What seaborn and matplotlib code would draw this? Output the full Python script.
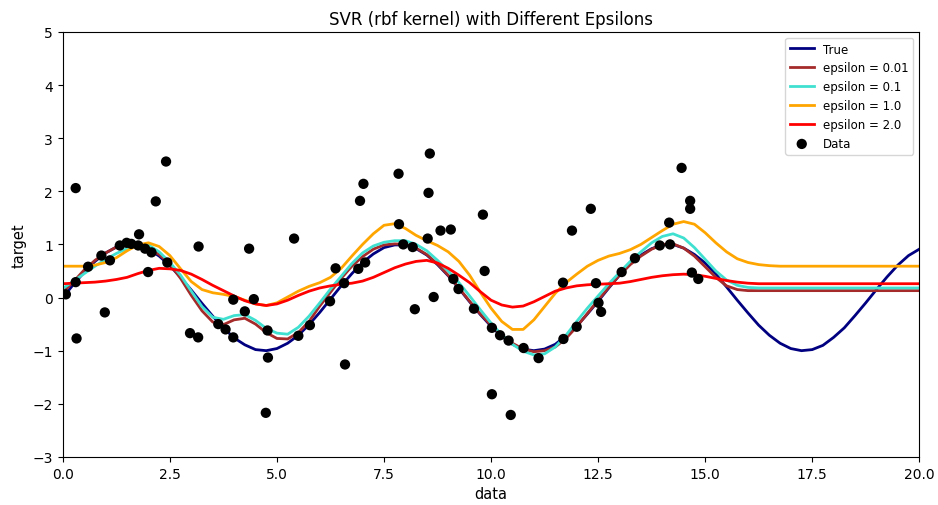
import numpy as np
import matplotlib
matplotlib.use("Agg")
import matplotlib.pyplot as plt
import seaborn as sns

x_grid = [0.0, 0.25, 0.5, 0.75, 1.0, 1.25, 1.5, 1.75, 2.0, 2.25, 2.5, 2.75,
          3.0, 3.25, 3.5, 3.75, 4.0, 4.25, 4.5, 4.75, 5.0, 5.25, 5.5, 5.75,
          6.0, 6.25, 6.5, 6.75, 7.0, 7.25, 7.5, 7.75, 8.0, 8.25, 8.5, 8.75,
          9.0, 9.25, 9.5, 9.75, 10.0, 10.25, 10.5, 10.75, 11.0, 11.25, 11.5, 11.75,
          12.0, 12.25, 12.5, 12.75, 13.0, 13.25, 13.5, 13.75, 14.0, 14.25, 14.5, 14.75,
          15.0, 15.25, 15.5, 15.75, 16.0, 16.25, 16.5, 16.75, 17.0, 17.25, 17.5, 17.75,
          18.0, 18.25, 18.5, 18.75, 19.0, 19.25, 19.5, 19.75, 20.0]

true_y = [0.00, 0.25, 0.48, 0.68, 0.84, 0.95, 1.00, 0.98, 0.91, 0.78, 0.60, 0.38,
          0.14, -0.11, -0.35, -0.57, -0.76, -0.89, -0.98, -1.00, -0.96, -0.86, -0.71, -0.51,
          -0.28, -0.03, 0.22, 0.45, 0.66, 0.82, 0.94, 0.99, 0.99, 0.92, 0.80, 0.62,
          0.41, 0.17, -0.08, -0.32, -0.54, -0.73, -0.88, -0.97, -1.00, -0.97, -0.88, -0.72,
          -0.54, -0.31, -0.07, 0.18, 0.42, 0.63, 0.80, 0.92, 0.99, 1.00, 0.93, 0.81,
          0.65, 0.44, 0.20, -0.05, -0.29, -0.52, -0.71, -0.86, -0.96, -1.00, -0.98, -0.90,
          -0.75, -0.57, -0.34, -0.10, 0.15, 0.39, 0.61, 0.79, 0.91]

eps001_y = [0.10, 0.30, 0.52, 0.70, 0.84, 0.95, 1.02, 1.00, 0.93, 0.81, 0.63, 0.36,
            0.04, -0.25, -0.46, -0.51, -0.42, -0.39, -0.50, -0.66, -0.77, -0.78, -0.66, -0.45,
            -0.16, 0.10, 0.36, 0.59, 0.77, 0.91, 0.99, 1.01, 1.00, 0.93, 0.81, 0.63,
            0.42, 0.18, -0.07, -0.31, -0.52, -0.71, -0.86, -0.97, -1.02, -1.00, -0.93, -0.77,
            -0.55, -0.30, -0.05, 0.19, 0.42, 0.62, 0.78, 0.91, 1.00, 1.01, 0.93, 0.78,
            0.58, 0.38, 0.22, 0.15, 0.13, 0.13, 0.13, 0.13, 0.13, 0.13, 0.13, 0.13,
            0.13, 0.13, 0.13, 0.13, 0.13, 0.13, 0.13, 0.13, 0.13]

eps01_y = [0.17, 0.31, 0.45, 0.59, 0.72, 0.83, 0.92, 0.99, 0.99, 0.86, 0.66, 0.42,
           0.12, -0.17, -0.37, -0.41, -0.34, -0.32, -0.43, -0.58, -0.67, -0.69, -0.56, -0.35,
           -0.10, 0.16, 0.40, 0.64, 0.84, 0.97, 1.04, 1.07, 1.07, 1.00, 0.88, 0.70,
           0.50, 0.28, 0.03, -0.23, -0.48, -0.70, -0.88, -1.01, -1.08, -1.06, -0.93, -0.71,
           -0.45, -0.20, 0.03, 0.26, 0.47, 0.68, 0.86, 1.03, 1.15, 1.20, 1.12, 0.94,
           0.72, 0.50, 0.33, 0.23, 0.19, 0.18, 0.18, 0.18, 0.18, 0.18, 0.18, 0.18,
           0.18, 0.18, 0.18, 0.18, 0.18, 0.18, 0.18, 0.18, 0.18]

eps1_y = [0.59, 0.59, 0.59, 0.61, 0.66, 0.75, 0.88, 0.99, 1.03, 0.96, 0.79, 0.54,
          0.30, 0.15, 0.09, 0.06, 0.02, -0.05, -0.12, -0.15, -0.10, 0.01, 0.12, 0.21,
          0.28, 0.38, 0.55, 0.78, 1.00, 1.20, 1.36, 1.39, 1.30, 1.17, 1.07, 0.98,
          0.86, 0.68, 0.42, 0.10, -0.20, -0.45, -0.60, -0.60, -0.42, -0.17, 0.08, 0.28,
          0.44, 0.59, 0.70, 0.78, 0.83, 0.90, 1.00, 1.13, 1.26, 1.38, 1.43, 1.38,
          1.22, 1.03, 0.86, 0.73, 0.66, 0.62, 0.60, 0.59, 0.59, 0.59, 0.59, 0.59,
          0.59, 0.59, 0.59, 0.59, 0.59, 0.59, 0.59, 0.59, 0.59]

eps2_y = [0.26, 0.27, 0.28, 0.29, 0.31, 0.34, 0.38, 0.45, 0.51, 0.55, 0.54, 0.51,
          0.44, 0.34, 0.23, 0.13, 0.03, -0.06, -0.12, -0.15, -0.12, -0.05, 0.04, 0.12,
          0.18, 0.22, 0.25, 0.27, 0.31, 0.38, 0.47, 0.56, 0.63, 0.68, 0.70, 0.65,
          0.55, 0.42, 0.28, 0.11, -0.05, -0.14, -0.18, -0.16, -0.08, 0.02, 0.12, 0.18,
          0.22, 0.24, 0.25, 0.26, 0.27, 0.30, 0.34, 0.38, 0.41, 0.43, 0.44, 0.43,
          0.40, 0.36, 0.32, 0.29, 0.27, 0.26, 0.26, 0.26, 0.26, 0.26, 0.26, 0.26,
          0.26, 0.26, 0.26, 0.26, 0.26, 0.26, 0.26, 0.26, 0.26]

# noisy samples
data_x = [0.07, 0.30, 0.30, 0.32, 0.59, 0.90, 0.98, 1.10, 1.33, 1.49, 1.60, 1.76,
          1.78, 1.92, 1.99, 2.07, 2.17, 2.41, 2.44, 2.97, 3.16, 3.17, 3.63, 3.80,
          3.98, 3.98, 4.25, 4.35, 4.46, 4.74, 4.78, 4.79, 5.40, 5.50, 5.77, 6.24,
          6.37, 6.57, 6.59, 6.90, 6.94, 7.02, 7.06, 7.84, 7.85, 7.95, 8.17, 8.22,
          8.52, 8.54, 8.57, 8.66, 8.82, 9.06, 9.12, 9.24, 9.60, 9.81, 9.85, 10.02,
          10.02, 10.21, 10.41, 10.46, 10.76, 11.11, 11.68, 11.69, 11.89, 12.00,
          12.33, 12.45, 12.51, 12.57, 13.05, 13.36, 13.94, 14.16, 14.18, 14.45,
          14.65, 14.65, 14.69, 14.84]
data_y = [0.06, 2.06, 0.29, -0.77, 0.58, 0.79, -0.28, 0.70, 0.98, 1.03, 1.01, 0.98,
          1.19, 0.92, 0.48, 0.85, 1.81, 2.56, 0.66, -0.67, -0.75, 0.96, -0.50, -0.60,
          -0.75, -0.04, -0.26, 0.92, -0.03, -2.17, -0.62, -1.13, 1.11, -0.72, -0.52,
          -0.07, 0.55, 0.27, -1.26, 0.54, 1.82, 2.14, 0.66, 2.33, 1.38, 1.00, 0.95,
          -0.22, 1.11, 1.97, 2.71, 0.01, 1.26, 1.28, 0.35, 0.16, -0.21, 1.56, 0.50,
          -0.57, -1.82, -0.71, -0.81, -2.21, -0.95, -1.14, 0.28, -0.78, 1.26, -0.55,
          1.67, 0.27, -0.10, -0.27, 0.48, 0.74, 0.98, 1.41, 1.00, 2.44, 1.82, 1.67,
          0.47, 0.35]

curves = [("True", true_y, "navy"),
          ("epsilon = 0.01", eps001_y, "brown"),
          ("epsilon = 0.1", eps01_y, "turquoise"),
          ("epsilon = 1.0", eps1_y, "orange"),
          ("epsilon = 2.0", eps2_y, "red")]

fig = plt.figure(figsize=(9.38, 5.06), dpi=100)
ax = fig.add_axes([0.067, 0.095, 0.913, 0.84])

for name, ys, col in curves:
    sns.lineplot(x=x_grid, y=ys, color=col, linewidth=2, label=name, ax=ax)
sns.scatterplot(x=data_x, y=data_y, color="black", s=55, edgecolor="none",
                label="Data", ax=ax, zorder=3)

ax.set_xlim(0, 20)
ax.set_ylim(-3, 5)
ax.set_xticks([0, 2.5, 5, 7.5, 10, 12.5, 15, 17.5, 20])
ax.set_xticklabels(["0.0", "2.5", "5.0", "7.5", "10.0", "12.5", "15.0", "17.5", "20.0"])
ax.tick_params(labelsize=10)
ax.set_xlabel("data", fontsize=10.5)
ax.set_ylabel("target", fontsize=10.5)
ax.set_title("SVR (rbf kernel) with Different Epsilons", fontsize=12)
ax.legend(loc="upper right", fontsize=8.5)

fig.savefig("out.png", dpi=100)
